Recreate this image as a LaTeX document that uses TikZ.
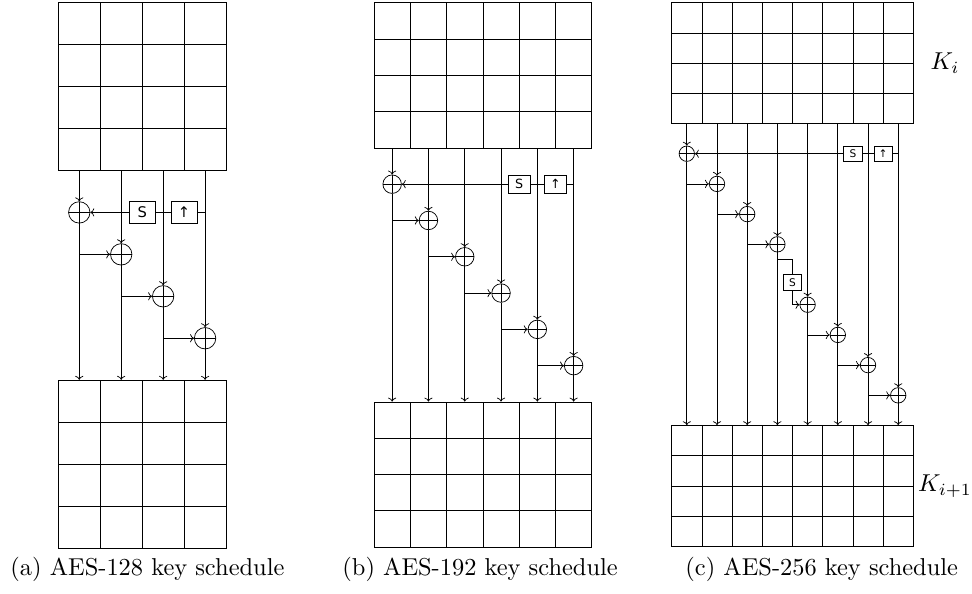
\documentclass[tikz,border=0pt]{standalone}
\usepackage{fontspec}
\usetikzlibrary{calc,positioning,arrows.meta}
\newfontfamily\sboxfont{DejaVu Sans}
\newlength{\cellstep}
\newlength{\glyphsize}
\tikzset{
  wire/.style={line width=0.55pt},
  flow/.style={wire, -{To[length=3pt,width=6.2pt]}},
  cell/.style={draw, line width=0.55pt, inner sep=0pt, minimum size=\cellstep},
  xorop/.style={
    draw, circle, line width=0.55pt, inner sep=0pt, minimum size=0.51\cellstep,
    path picture={\draw[line width=0.55pt]
      (path picture bounding box.north) -- (path picture bounding box.south)
      (path picture bounding box.west) -- (path picture bounding box.east);}
  },
  opbox/.style={
    draw, fill=white, line width=0.55pt, inner sep=0pt,
    minimum width=0.61\cellstep, minimum height=0.51\cellstep,
    font=\sboxfont\fontsize{\glyphsize}{\glyphsize}\selectfont
  },
  keylbl/.style={font=\normalsize, inner sep=0pt, scale=1.86},
  captext/.style={font=\normalsize, inner sep=0pt, anchor=base west, scale=1.86},
}
% #1 prefix, #2 words, #3 rows of the xors, #4 top of lower register, #5 plain branches
\newcommand{\KeySchedule}[5]{%
  \foreach \r in {1,...,4} {
    \foreach \c in {1,...,#2} {
      \node[cell] (#1k\r-\c) at (\c-0.5,\r-0.5) {};
      \node[cell] (#1n\r-\c) at (\c-0.5,#4+\r-0.5) {};
    }
  }
  \foreach \y [count=\c] in {#3} {
    \node[xorop] (#1x\c) at (\c-0.5,\y) {};
    \draw[flow] (#1k4-\c.south) -- (#1x\c.north);
    \draw[flow] (#1x\c.south) -- (#1n1-\c.north);
  }
  \node[opbox] (#1s) at (#2-2,5) {S};
  \node[opbox] (#1r) at (#2-1,5) {↑};
  \draw[wire] (#1x#2.south |- #1r) -- (#1r);
  \draw[wire] (#1r) -- (#1s);
  \draw[flow] (#1s) -- (#1x1);
  \foreach \c in {#5} {
    \pgfmathtruncatemacro{\p}{\c-1}
    \draw[flow] (#1x\p.south |- #1x\c) -- (#1x\c);
  }
}

\begin{document}
\begin{tikzpicture}[x=0.7615pt, y=-0.7615pt]
  \useasboundingbox (0,0) rectangle (972,594);

  % AES-128
  \setlength{\cellstep}{31.94pt}\setlength{\glyphsize}{0.35\cellstep}
  \begin{scope}[shift={(58.3,2.7)}, x=\cellstep, y=-\cellstep]
    \KeySchedule{a}{4}{5,6,7,8}{9}{2,3,4}
  \end{scope}

  % AES-192
  \setlength{\cellstep}{27.64pt}\setlength{\glyphsize}{0.35\cellstep}
  \begin{scope}[shift={(374,2.7)}, x=\cellstep, y=-\cellstep]
    \KeySchedule{b}{6}{5,6,7,8,9,10}{11}{2,3,4,5,6}
  \end{scope}

  % AES-256
  \setlength{\cellstep}{23.0pt}\setlength{\glyphsize}{0.35\cellstep}
  \begin{scope}[shift={(671.7,2.7)}, x=\cellstep, y=-\cellstep]
    \KeySchedule{c}{8}{5,6,7,8,10,11,12,13}{14}{2,3,4,6,7,8}
    \coordinate (ctap) at (3.5,8.5);
    \node[opbox] (cs2) at (4,9.26) {S};
    \draw[wire] (ctap) -| (cs2.north);
    \draw[flow] (cs2.south) |- (cx5);
    \node[keylbl] (Ktop) at (9.05,2) {$K_i$};
    \node[keylbl] (Kbot) at (9.05,16) {$K_{i+1}$};
  \end{scope}

  \node[captext] (capa) at (10,575.5) {(a) AES-128 key schedule};
  \node[captext] (capb) at (342,575.5) {(b) AES-192 key schedule};
  \node[captext] (capc) at (685,575.5) {(c) AES-256 key schedule};
\end{tikzpicture}
\end{document}
